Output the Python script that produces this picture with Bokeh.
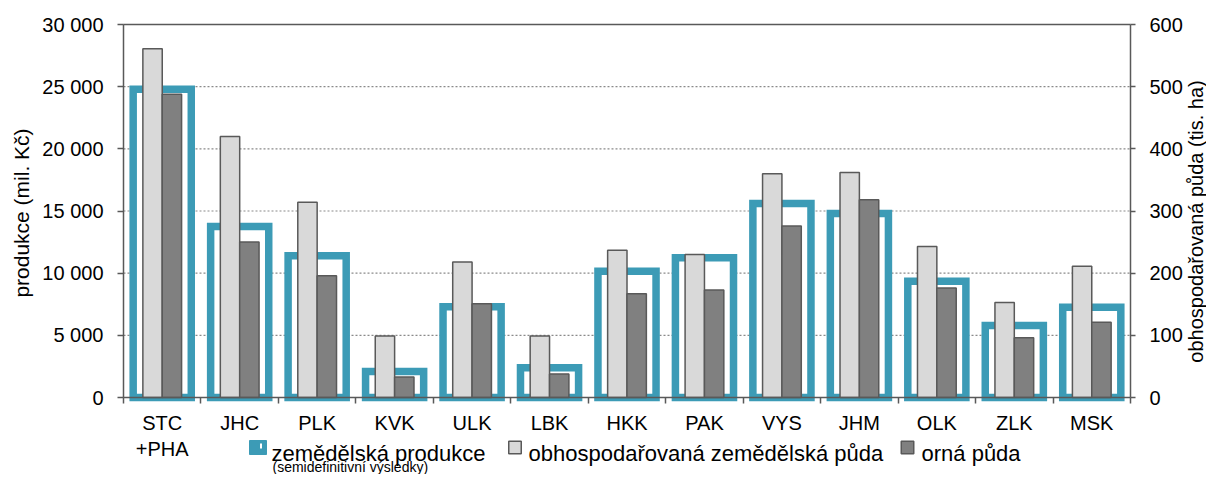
import math
import numpy as np
from bokeh.plotting import figure
from bokeh.models import (Range1d, LinearAxis, FixedTicker, Label,
                          ColumnDataSource)
from bokeh.embed import file_html
from bokeh.resources import INLINE

# ---------------- data ----------------
categories = ["STC\n+PHA", "JHC", "PLK", "KVK", "ULK", "LBK", "HKK",
              "PAK", "VYS", "JHM", "OLK", "ZLK", "MSK"]
production = [24800, 13750, 11400, 2100, 7300, 2400, 10150,
              11250, 15600, 14800, 9350, 5800, 7250]          # mil. Kč
managed_land = [561, 420, 314, 99, 218, 99, 237,
                230, 360, 362, 243, 153, 211]                  # tis. ha
arable_land = [488, 250, 196, 33, 151, 38, 167,
               173, 276, 318, 176, 96, 121]                    # tis. ha
left_ticks = [0, 5000, 10000, 15000, 20000, 25000, 30000]
right_ticks = [0, 100, 200, 300, 400, 500, 600]

legend_prod = "zemědělská produkce"
legend_prod_note = "(semidefinitivní výsledky)"
legend_managed = "obhospodařovaná zemědělská půda"
legend_arable = "orná půda"
left_title = "produkce (mil. Kč)"
right_title = "obhospodařovaná půda (tis. ha)"

# ---------------- style / geometry ----------------
FONT = "Liberation Sans"
BLUE = "#3c9bb6"
LIGHT = "#d9d9d9"
DARK = "#808080"
EDGE = "#595959"
GRID = "#8a8a8a"
TXT = "#000000"

W, H = 1206, 474
LEFT, TOP, RIGHT = 123, 24, 1130       # plot-area edges (px)
ZERO = 397                              # pixel row of value 0
n = len(categories)
ymax, lmax = left_ticks[-1], right_ticks[-1]
px_per_val = (ZERO - TOP) / ymax

def fx(px):   # screen px -> x data
    return (px - LEFT) * n / (RIGHT - LEFT)

def fy(py):   # screen px -> y data
    return (ZERO - py) / px_per_val

xc = np.arange(n) + 0.5
src = ColumnDataSource(dict(x=xc, xl=xc - 0.125, xr=xc + 0.125,
                            prod=production, managed=managed_land,
                            arable=arable_land))

# the frame covers the whole canvas; axes are pinned with fixed_location
p = figure(width=W, height=H, output_backend="svg", toolbar_location=None,
           x_range=Range1d(fx(0), fx(W)), y_range=Range1d(fy(H), fy(0)),
           min_border_left=0, min_border_right=0, min_border_top=0,
           min_border_bottom=0)
p.extra_y_ranges = {"land": Range1d(fy(H) * lmax / ymax, fy(0) * lmax / ymax)}
p.title.visible = False
p.background_fill_color = "white"
p.border_fill_color = "white"
p.outline_line_color = None
p.xgrid.visible = False
p.ygrid.visible = False

# horizontal grid inside the plot area + top border
k = len(left_ticks)
p.segment(x0=[0] * k, x1=[n] * k, y0=left_ticks, y1=left_ticks,
          line_color=GRID, line_dash="2 2", line_width=1.2)
p.segment(x0=[0], x1=[n], y0=[ymax], y1=[ymax], line_color=EDGE, line_width=1.5)

r_prod = p.vbar(x="x", top="prod", bottom=0, width=0.75, source=src,
                fill_color="white", line_color=BLUE, line_width=7.5,
                line_join="miter")
r_man = p.vbar(x="xl", top="managed", bottom=0, width=0.25, source=src,
               y_range_name="land", fill_color=LIGHT, line_color=EDGE,
               line_width=1.5)
r_ara = p.vbar(x="xr", top="arable", bottom=0, width=0.25, source=src,
               y_range_name="land", fill_color=DARK, line_color=EDGE,
               line_width=1.5)

# x axis at value 0: names at centres, ticks at boundaries
xa = p.xaxis[0]
xa.fixed_location = 0
xa.bounds = (0, n)
xa.ticker = FixedTicker(ticks=list(xc), minor_ticks=list(range(n + 1)))
xa.major_label_overrides = {float(v): c for v, c in zip(xc, categories)}
xa.major_tick_out = 0
xa.major_tick_in = 0
xa.major_tick_line_color = None
xa.minor_tick_out = 6
xa.minor_tick_in = 0
xa.minor_tick_line_color = EDGE
xa.minor_tick_line_width = 1.5
xa.axis_line_color = EDGE
xa.axis_line_width = 1.5
xa.major_label_standoff = 8
xa.major_label_text_font = FONT
xa.major_label_text_font_size = "20px"
xa.major_label_text_color = TXT

# y axes pinned to the plot-area edges
ya = p.yaxis[0]
ya.fixed_location = 0
ya.bounds = (0, ymax)
ya.ticker = FixedTicker(ticks=left_ticks)
ya.major_label_overrides = {t: f"{t:,}".replace(",", " ") for t in left_ticks}

ra = LinearAxis(y_range_name="land", ticker=FixedTicker(ticks=right_ticks),
                bounds=(0, lmax), fixed_location=n)
p.add_layout(ra, "right")

for ax, out, stand in ((ya, 6, 14), (ra, 5, 14)):
    ax.major_tick_out = out
    ax.major_tick_in = 0
    ax.minor_tick_line_color = None
    ax.axis_line_color = EDGE
    ax.axis_line_width = 1.5
    ax.major_tick_line_color = EDGE
    ax.major_tick_line_width = 1.5
    ax.major_label_standoff = stand
    ax.major_label_text_font = FONT
    ax.major_label_text_font_size = "20px"
    ax.major_label_text_color = TXT

# axis titles (vertical, reading bottom to top)
p.add_layout(Label(x=fx(21), y=fy(212.5), text=left_title, angle=math.pi / 2,
                   text_align="center", text_baseline="alphabetic",
                   text_font=FONT, text_font_size="21px", text_color=TXT))
p.add_layout(Label(x=fx(1195), y=fy(221), text=right_title, angle=math.pi / 2,
                   text_align="center", text_baseline="alphabetic",
                   text_font=FONT, text_font_size="20px", text_color=TXT))

# ---------------- legend (drawn below the axis) ----------------
ICON_Y = 447
TEXT_Y = 452.5
p.rect(x=[fx(257.5)], y=[fy(ICON_Y)], width=17, height=14,
       width_units="screen", height_units="screen",
       fill_color=BLUE, line_color=BLUE, line_width=1)
p.rect(x=[fx(260.5)], y=[fy(ICON_Y - 1.5)], width=2, height=5,
       width_units="screen", height_units="screen",
       fill_color="white", line_color=None)
p.rect(x=[fx(514.5)], y=[fy(ICON_Y)], width=12.5, height=12.5,
       width_units="screen", height_units="screen",
       fill_color=LIGHT, line_color=EDGE, line_width=1.5)
p.rect(x=[fx(907)], y=[fy(ICON_Y)], width=12.5, height=12.5,
       width_units="screen", height_units="screen",
       fill_color=DARK, line_color=EDGE, line_width=1.5)

for txt, px in ((legend_prod, 271), (legend_managed, 528), (legend_arable, 921)):
    p.add_layout(Label(x=fx(px), y=fy(TEXT_Y), text=txt, text_align="left",
                       text_baseline="alphabetic", text_font=FONT,
                       text_font_size="22px", text_color=TXT))
p.add_layout(Label(x=fx(272), y=fy(466.5), text=legend_prod_note,
                   text_align="left", text_baseline="alphabetic",
                   text_font=FONT, text_font_size="14px", text_color=TXT))

open("out.html", "w").write(file_html(p, INLINE))
